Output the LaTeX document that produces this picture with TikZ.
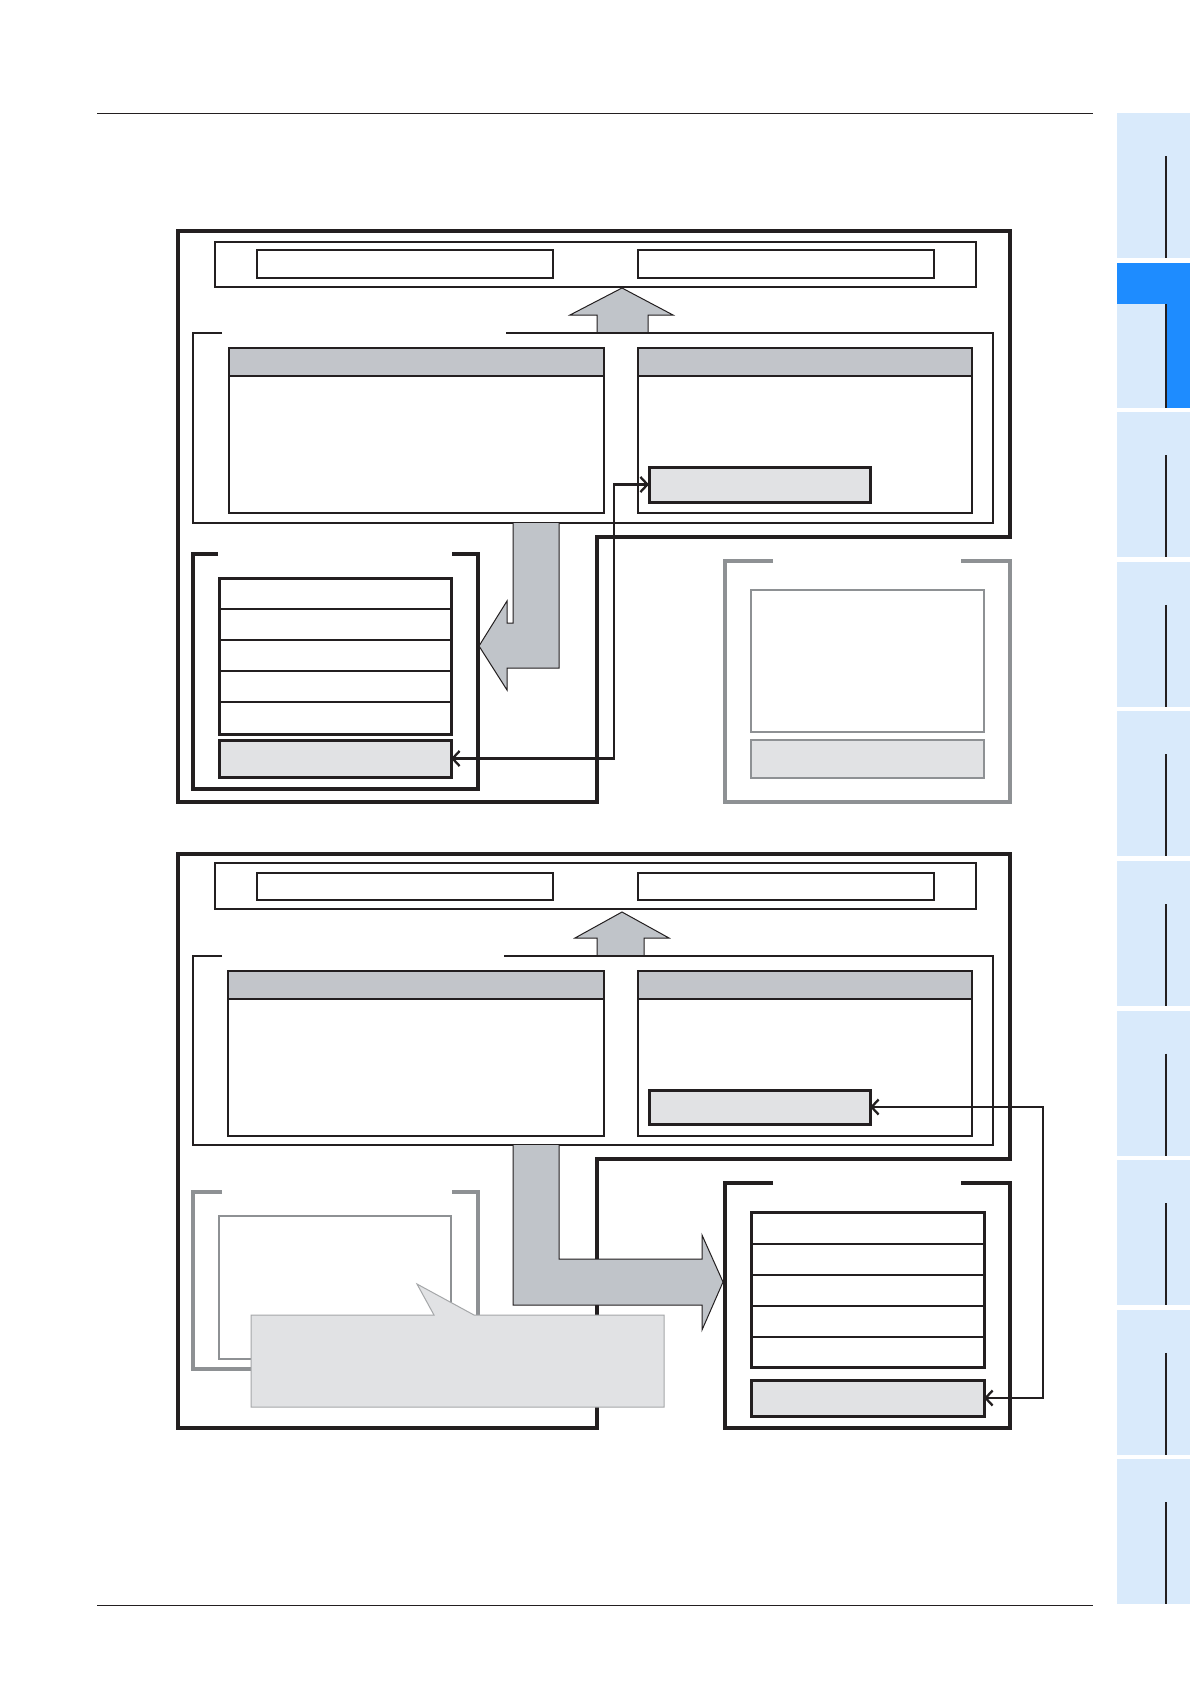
\documentclass[tikz,border=0pt]{standalone}
\usepackage{xcolor}
\usepackage{tikz}
\usetikzlibrary{arrows.meta,positioning,calc}
\definecolor{inkblack}{RGB}{35,31,32}
\definecolor{headgray}{RGB}{194,197,202}
\definecolor{arrowgray}{RGB}{192,196,201}
\definecolor{lightfill}{RGB}{225,226,228}
\definecolor{framegray}{RGB}{142,145,148}
\definecolor{tabblue}{RGB}{217,234,251}
\definecolor{activeblue}{RGB}{30,140,255}

\tikzset{
  outerframe/.style={draw=inkblack, line width=4.5pt, line join=miter},
  midframe/.style={draw=inkblack, line width=2.5pt},
  panel/.style={draw=inkblack, line width=2pt, fill=white},
  regbox/.style={draw=inkblack, line width=3pt, fill=lightfill, inner sep=0pt, outer sep=0pt, anchor=north west},
  bigarrow/.style={fill=arrowgray, draw=inkblack, line width=1pt, line join=miter},
  link/.style={draw=inkblack, line width=2.3pt, {Straight Barb[length=7pt,width=15pt]}-{Straight Barb[length=7pt,width=15pt]}}
}

\begin{document}
\begin{tikzpicture}[x=1pt,y=-1pt]
  \useasboundingbox (0,0) rectangle (1190,1684);
  \fill[white] (0,0) rectangle (1190,1684);

  % Page rules
  \draw[inkblack, line width=1pt] (97,113) -- (1093,113);
  \draw[inkblack, line width=1pt] (97,1605) -- (1093,1605);

  % Side tabs
  \foreach \i in {0,...,9} {
    \fill[tabblue] (1117,113+149.6*\i) rectangle ++(73,145);
    \draw[inkblack, line width=1.5pt] (1166,156+149.6*\i) -- ++(0,102);
  }
  \fill[activeblue] (1117,262.6) rectangle (1190,304);
  \fill[activeblue] (1167,304) rectangle (1190,407.6);
  \draw[inkblack, line width=1.5pt] (1166,304) -- (1166,407.6);

  % ---- Upper diagram ----
  \draw[outerframe] (178,231) -- (1010,231) -- (1010,537) -- (597,537) -- (597,802) -- (178,802) -- cycle;
  \draw[midframe] (215,242) rectangle (976,287);
  \draw[inkblack, line width=2pt] (257,250) rectangle (553,278);
  \draw[inkblack, line width=2pt] (638,250) rectangle (934,278);
  \filldraw[bigarrow] (597,333) -- (597,315) -- (570,315) -- (622,288) -- (673,315) -- (648,315) -- (648,333);
  \draw[midframe] (222,333) -- (193,333) -- (193,523) -- (993,523) -- (993,333) -- (506,333);

  % Panels
  \fill[headgray] (229,348) rectangle (604,376);
  \draw[inkblack, line width=2pt] (229,376) -- (604,376);
  \draw[panel, fill=none] (229,348) rectangle (604,513);
  \fill[headgray] (638,348) rectangle (972,376);
  \draw[inkblack, line width=2pt] (638,376) -- (972,376);
  \draw[panel, fill=none] (638,348) rectangle (972,513);
  \node[regbox, minimum width=221pt, minimum height=35pt] (rgboxA) at (649,467) {};

  % Bent arrow down to the left
  \filldraw[bigarrow] (513,523) -- (513,623) -- (507,623) -- (507,601) -- (479,646) -- (507,690) -- (507,668) -- (559,668) -- (559,523);

  % Left bracket with stack
  \draw[outerframe] (218,554) -- (193,554) -- (193,789) -- (478,789) -- (478,554) -- (452,554);
  \draw[inkblack, line width=3pt] (219,578) rectangle (451,734);
  \foreach \y in {609,640,671,702}
    \draw[inkblack, line width=1.5pt] (219,\y) -- (451,\y);
  \node[regbox, minimum width=232pt, minimum height=37pt] (lgboxA) at (219,740) {};

  % Grey bracket
  \draw[framegray, line width=4.5pt] (773,561) -- (725,561) -- (725,802) -- (1010,802) -- (1010,561) -- (961,561);
  \draw[framegray, line width=2pt] (751,590) rectangle (984,732);
  \draw[framegray, line width=2.5pt, fill=lightfill] (751,740) rectangle (984,778);

  \draw[link] (lgboxA.east) -- ++(163,0) |- (rgboxA.west);

  % ---- Lower diagram ----
  \draw[outerframe] (178,854) -- (1010,854) -- (1010,1159) -- (597,1159) -- (597,1428) -- (178,1428) -- cycle;
  \draw[midframe] (215,863) rectangle (976,909);
  \draw[inkblack, line width=2pt] (257,873) rectangle (553,900);
  \draw[inkblack, line width=2pt] (638,873) rectangle (934,900);
  \filldraw[bigarrow] (597,956) -- (597,938) -- (575,938) -- (622,912) -- (669,938) -- (644,938) -- (644,956);
  \draw[midframe] (222,956) -- (193,956) -- (193,1145) -- (993,1145) -- (993,956) -- (504,956);

  % Panels
  \fill[headgray] (228,971) rectangle (604,999);
  \draw[inkblack, line width=2pt] (228,999) -- (604,999);
  \draw[panel, fill=none] (228,971) rectangle (604,1136);
  \fill[headgray] (638,971) rectangle (972,999);
  \draw[inkblack, line width=2pt] (638,999) -- (972,999);
  \draw[panel, fill=none] (638,971) rectangle (972,1136);
  \node[regbox, minimum width=221pt, minimum height=34pt] (rgboxB) at (649,1090) {};

  % Grey bracket
  \draw[framegray, line width=4.5pt] (222,1192) -- (193,1192) -- (193,1369) -- (478,1369) -- (478,1192) -- (452,1192);
  \draw[framegray, line width=2pt] (219,1216) rectangle (451,1359);

  % Bent arrow to the right
  \filldraw[bigarrow] (513,1145) -- (513,1305) -- (702,1305) -- (702,1330) -- (723,1282) -- (702,1235) -- (702,1259) -- (559,1259) -- (559,1145);

  % Right bracket with stack
  \draw[outerframe] (773,1183) -- (725,1183) -- (725,1428) -- (1010,1428) -- (1010,1183) -- (961,1183);
  \draw[inkblack, line width=3pt] (751,1212) rectangle (984,1367);
  \foreach \y in {1244,1275,1306,1337}
    \draw[inkblack, line width=1.5pt] (751,\y) -- (984,\y);
  \node[regbox, minimum width=233pt, minimum height=36pt] (lgboxB) at (751,1380) {};

  \draw[link] (rgboxB.east) -- ++(173,0) |- (lgboxB.east);

  % Callout
  \filldraw[fill=lightfill, draw=framegray!80, line width=1pt] (251,1315) -- (434,1315) -- (417,1284) -- (474,1315) -- (664,1315) -- (664,1407) -- (251,1407) -- cycle;
\end{tikzpicture}
\end{document}
